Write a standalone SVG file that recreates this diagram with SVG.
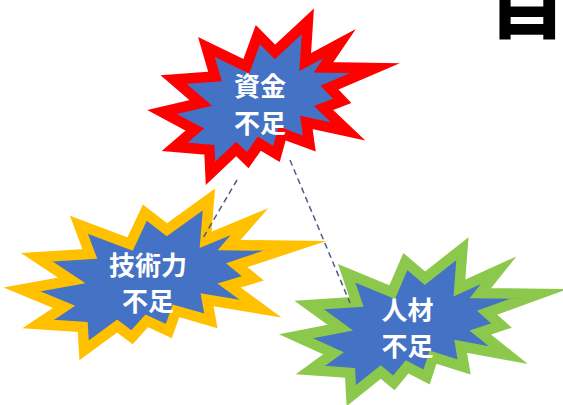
<svg xmlns="http://www.w3.org/2000/svg" xmlns:xlink="http://www.w3.org/1999/xlink" width="563" height="405" viewBox="0 0 563 405">
<style>
.seal{fill:#4472C4;stroke-width:10.5;stroke-linejoin:miter;stroke-miterlimit:10}
.red{stroke:#FF0000}
.yellow{stroke:#FFC000}
.green{stroke:#8CC84B}
.lbl{font-family:"Noto Sans CJK JP","Noto Sans CJK SC",sans-serif;font-weight:700;font-size:26px;fill:#FFFFFF;text-anchor:middle;dominant-baseline:central}
.conn{fill:none;stroke:#4E5D80;stroke-width:1.5;stroke-dasharray:6 4}
</style>
<defs>
<path id="seal-shape" vector-effect="non-scaling-stroke" d="M11462,4342 L14790,0 L14525,5777 L18007,3172 L16380,6532 L21600,6645 L16985,9402 L18270,11290 L16380,12310 L18877,15632 L14640,14350 L14942,17370 L12180,15935 L11612,18842 L9872,17370 L8700,19712 L7527,18125 L4917,21600 L4805,18240 L1285,17825 L3330,15370 L0,12877 L3935,11592 L1172,8270 L5372,7817 L4502,3625 L8550,6382 L9722,1887 Z"/>
</defs>
<rect width="563" height="405" fill="#FFFFFF"/>
<g id="node-funds">
<use xlink:href="#seal-shape" class="seal red" transform="translate(162,21.4) scale(0.009861,0.007037)"/>
<text class="lbl" x="260" y="84">資金</text>
<text class="lbl" x="260" y="121">不足</text>
</g>
<g id="node-tech">
<use xlink:href="#seal-shape" class="seal yellow" transform="translate(22,199.4) scale(0.012639,0.006991)"/>
<text class="lbl" x="148" y="263">技術力</text>
<text class="lbl" x="148" y="299">不足</text>
</g>
<g id="node-people">
<use xlink:href="#seal-shape" class="seal green" transform="translate(296,248.7) scale(0.01125,0.006806)"/>
<text class="lbl" x="407.5" y="308">人材</text>
<text class="lbl" x="407.5" y="344">不足</text>
</g>
<g id="connectors">
<line class="conn" x1="237" y1="180" x2="203" y2="238"/>
<line class="conn" x1="290" y1="160" x2="350" y2="303"/>
</g>
<text x="527.5" y="33" font-family="'Noto Sans CJK JP',sans-serif" font-weight="900" font-size="76" text-anchor="middle" fill="#000000">目</text>
</svg>
